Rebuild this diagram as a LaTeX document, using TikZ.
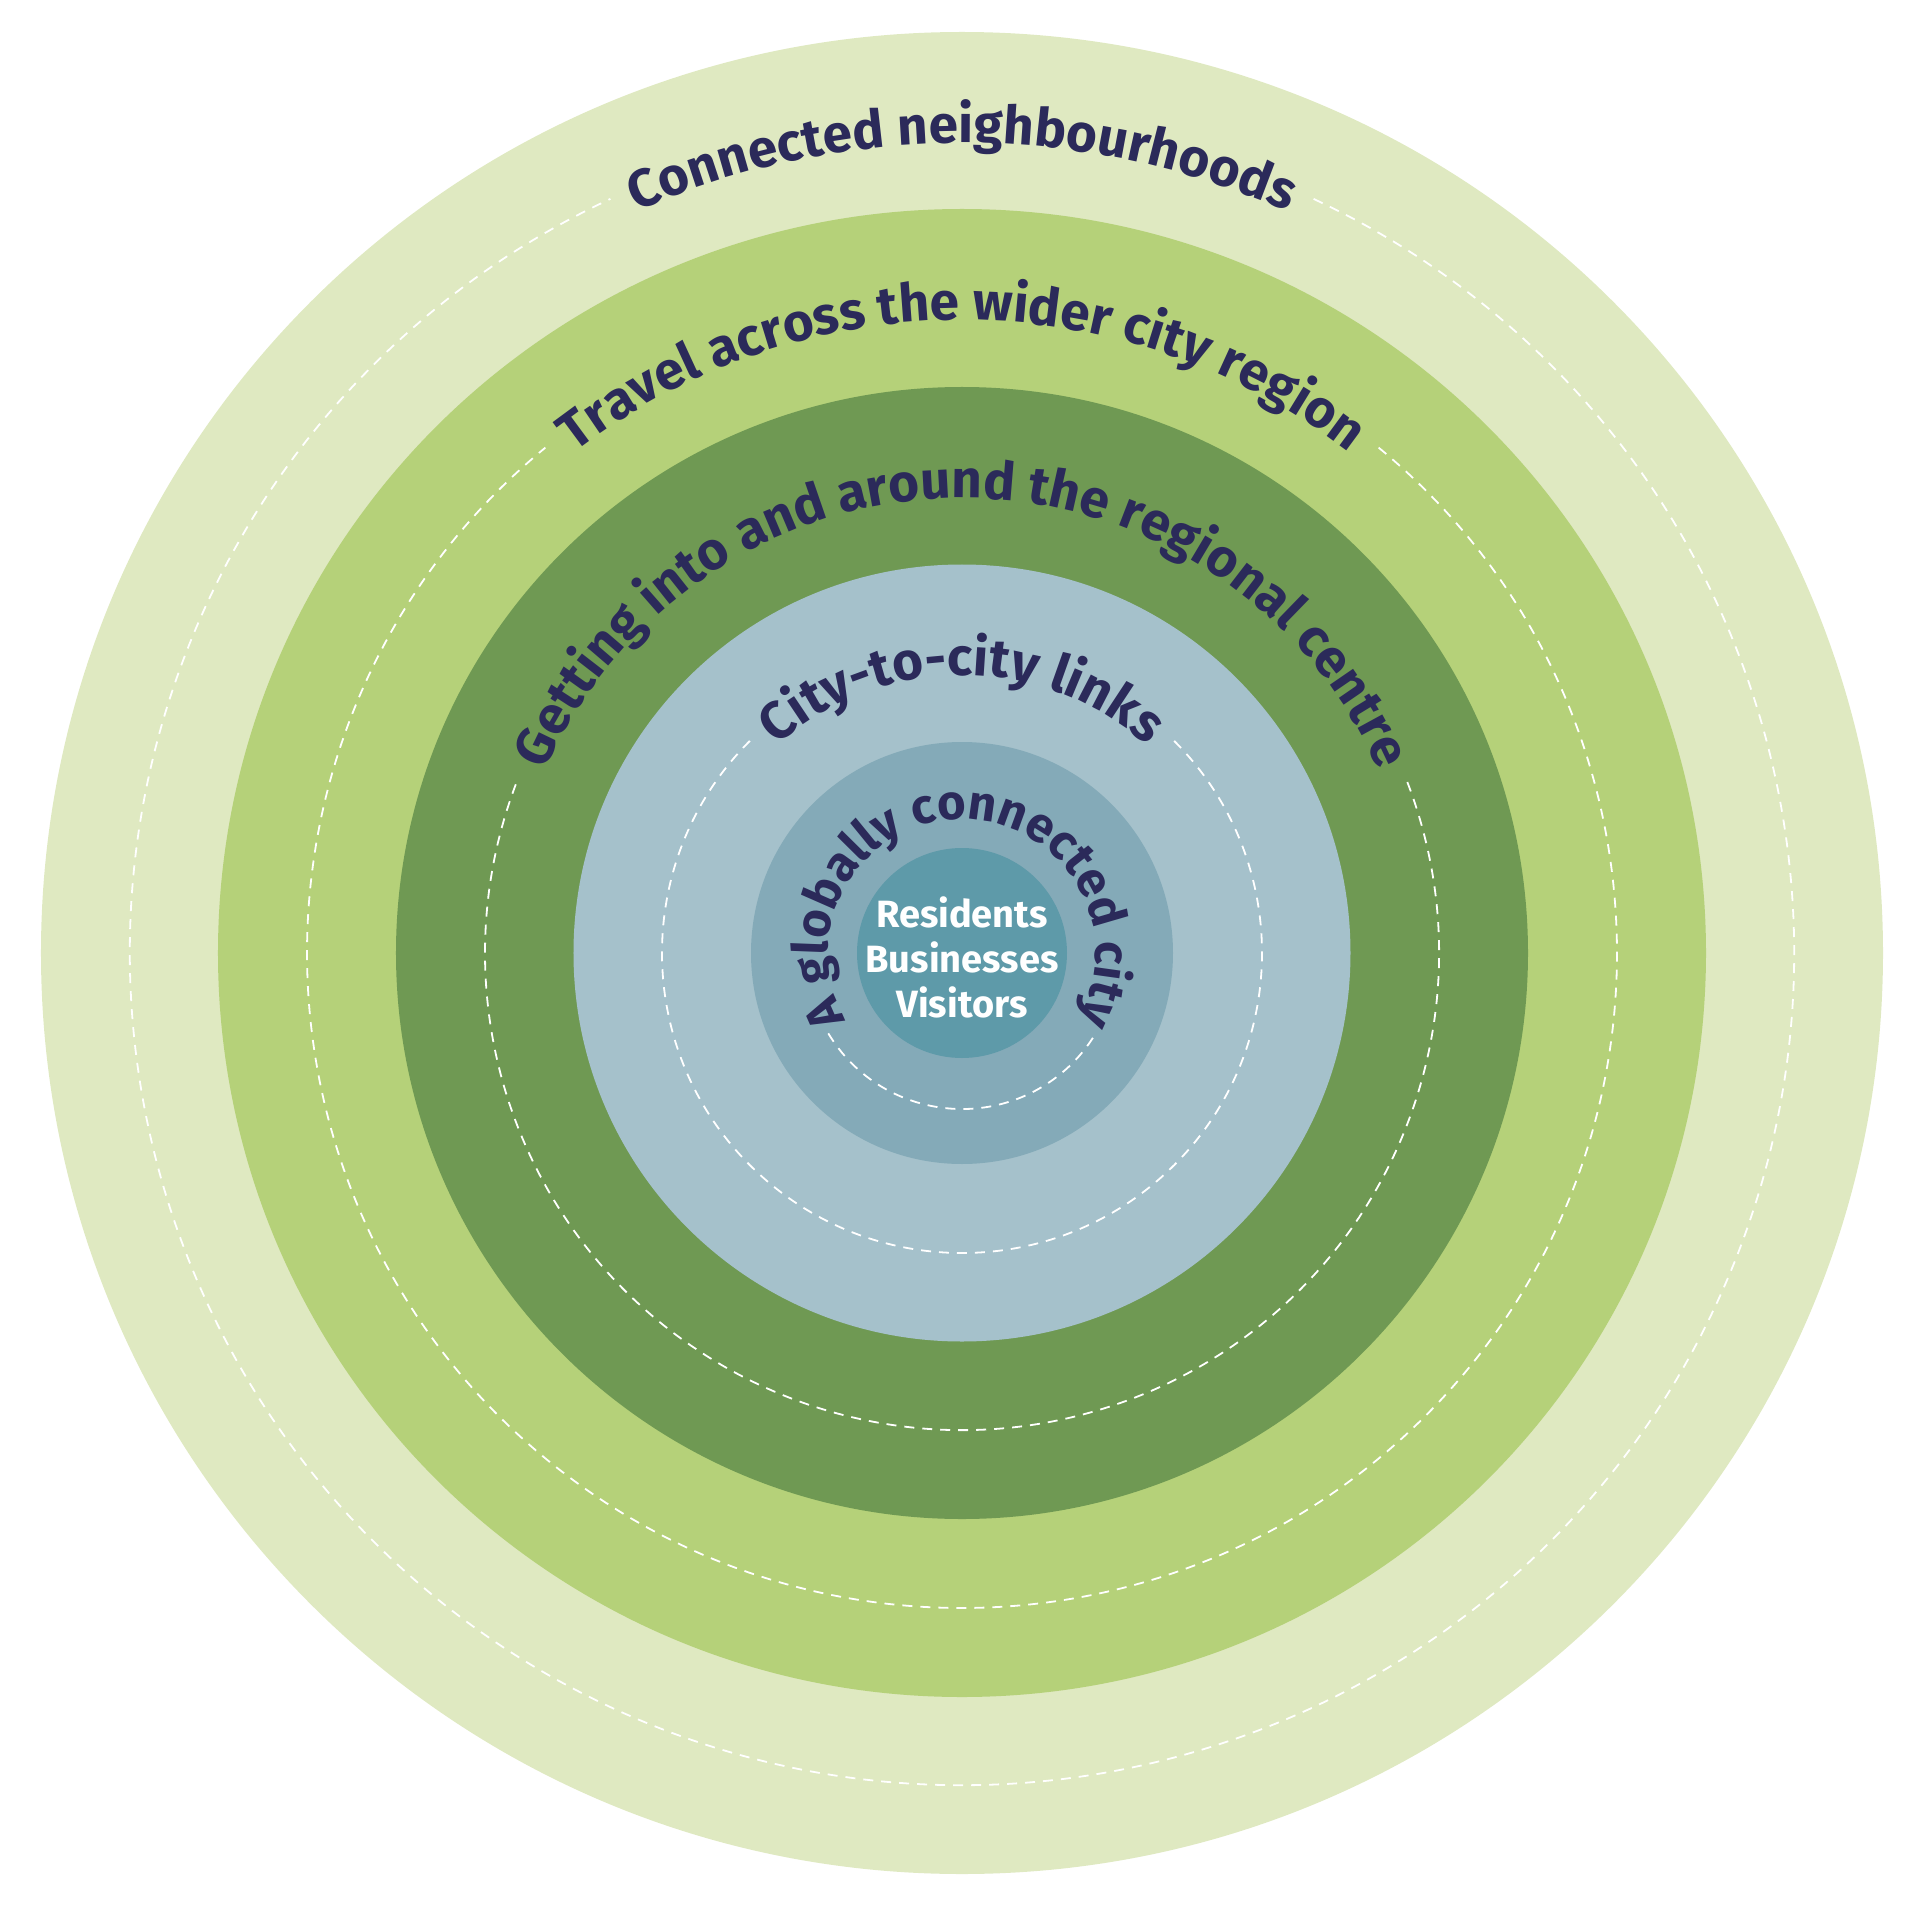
\documentclass[tikz,border=0pt]{standalone}
\usepackage{fontspec}
\setmainfont{Fira Sans}
\usetikzlibrary{decorations.text}

\definecolor{ringA}{HTML}{DFE9C1}
\definecolor{ringB}{HTML}{B5D179}
\definecolor{ringC}{HTML}{6F9953}
\definecolor{ringD}{HTML}{A5C1CB}
\definecolor{ringE}{HTML}{84AAB8}
\definecolor{ringF}{HTML}{5E9AA9}
\definecolor{navy}{HTML}{2B2A5A}

\newcommand{\ringfont}{\bfseries\fontsize{26.5}{26.5}\selectfont}
\newcommand{\corefont}{\bfseries\fontsize{24.5}{24.5}\selectfont}

\begin{document}
\begin{tikzpicture}[x=0.5pt,y=0.5pt]
    \tikzstyle{every node}=[font=\bfseries\fontsize{19}{22.5}\selectfont]
    \tikzstyle{track}=[draw=white, line width=0.9pt, dash pattern=on 5pt off 4pt]
    \tikzstyle{ringlabel}=[decorate, decoration={text along path, text align=center, text color=navy, text={|\ringfont|#1}}]
    \tikzstyle{corelabel}=[decorate, decoration={text along path, text align=center, text color=navy, text={|\corefont|#1}}]

    \useasboundingbox (-962,-964) rectangle (958,953);

    % rings, outside in
    \fill[ringA] (0,0) circle[radius=921];
    \fill[ringB] (0,0) circle[radius=744];
    \fill[ringC] (0,0) circle[radius=566];
    \fill[ringD] (0,0) circle[radius=388.5];
    \fill[ringE] (0,0) circle[radius=211];
    \fill[ringF] (0,0) circle[radius=105];

    % dashed tracks, open where the labels sit
    \draw[track] (65:832) arc[start angle=65, end angle=-245, radius=832];
    \draw[track] (50.5:655) arc[start angle=50.5, end angle=-230.5, radius=655];
    \draw[track] (21:477) arc[start angle=21, end angle=-201, radius=477];
    \draw[track] (45:300) arc[start angle=45, end angle=-225, radius=300];
    \draw[track] (211:156) arc[start angle=211, end angle=329, radius=156];

    % labels, baseline a little inside each track
    \path[ringlabel={Connected neighbourhoods}] (130:810) arc[start angle=130, end angle=50, radius=810];
    \path[ringlabel={Travel across the wider city region}] (140:633) arc[start angle=140, end angle=40, radius=633];
    \path[ringlabel={Getting into and around the regional centre}] (170:455) arc[start angle=170, end angle=10, radius=455];
    \path[ringlabel={City-to-city links}] (150:278) arc[start angle=150, end angle=30, radius=278];
    \path[corelabel={A globally connected city}] (220:134) arc[start angle=220, end angle=-40, radius=134];

    \node[text=white, align=center] (people) at (0,-4) {Residents\\Businesses\\Visitors};
\end{tikzpicture}
\end{document}
